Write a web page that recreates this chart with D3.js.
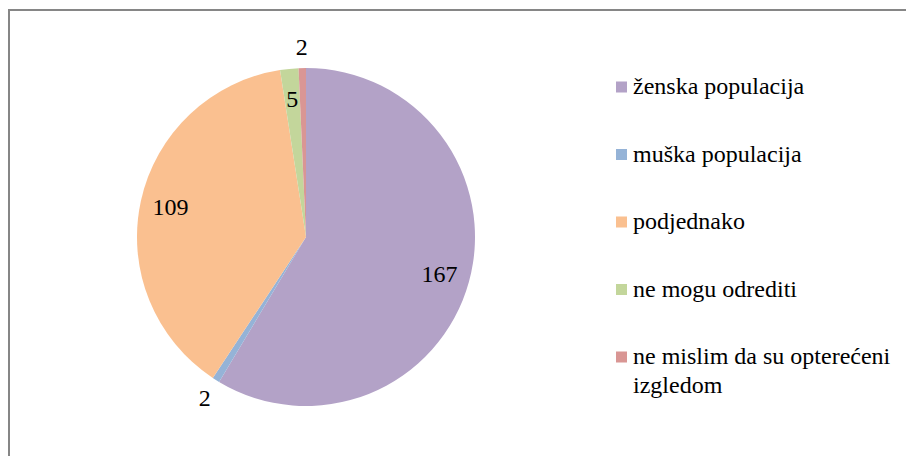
<!DOCTYPE html>
<html>
<head>
<meta charset="utf-8">
<script src="https://d3js.org/d3.v7.min.js"></script>
<style>
	body { margin: 0; background: #fff; overflow: hidden; }
	svg { display: block; }
</style>
</head>
<body>
<script>

// values
var categories = ["ženska populacija", "muška populacija", "podjednako", "ne mogu odrediti", "ne mislim da su opterećeni izgledom"]
var values = [167, 2, 109, 5, 2]
var colors = ["#B3A2C7", "#95B3D7", "#FAC090", "#C3D69B", "#D99694"]

var width = 906, height = 456
var cx = 306, cy = 237, radius = 169
var fontFam = "Liberation Serif"

var svg = d3.select("body").append("svg")
	.attr("width", width)
	.attr("height", height)

// chart frame: only the top and left edges fall inside the shot
svg.append("line")
	.attr("x1", 9).attr("y1", 10).attr("x2", 906).attr("y2", 10)
	.attr("stroke", "#868686").attr("stroke-width", 2)
svg.append("line")
	.attr("x1", 9).attr("y1", 9).attr("x2", 9).attr("y2", 456)
	.attr("stroke", "#868686").attr("stroke-width", 2)

var pie = d3.pie().sort(null).value(function(d) { return d })
var arcs = pie(values)

var arc = d3.arc().innerRadius(0).outerRadius(radius)

var g = svg.append("g").attr("transform", "translate(" + cx + "," + cy + ")")

g.selectAll("path")
	.data(arcs)
	.enter().append("path")
	.attr("d", arc)
	.attr("fill", function(d, i) { return colors[i] })

// small slices get their label outside, the rest inside
function labelPos(d) {
	var a = (d.startAngle + d.endAngle) / 2
	var r = d.value <= 2 ? radius + 21 : radius * 0.82
	return [Math.sin(a) * r, -Math.cos(a) * r]
}

g.selectAll("text.lbl")
	.data(arcs)
	.enter().append("text")
	.attr("class", "lbl")
	.attr("x", function(d) { return labelPos(d)[0] })
	.attr("y", function(d) { return labelPos(d)[1] })
	.attr("dy", "0.33em")
	.attr("text-anchor", "middle")
	.style("font-family", fontFam)
	.style("font-size", "24px")
	.text(function(d) { return d.value })

// legend
var legendY = d3.scalePoint().domain(categories).range([87, 357])

var legend = svg.append("g")
	.selectAll("g")
	.data(categories)
	.enter().append("g")
	.attr("transform", function(d) { return "translate(616," + legendY(d) + ")" })

legend.append("rect")
	.attr("x", 0).attr("y", -5.5)
	.attr("width", 11).attr("height", 11)
	.attr("fill", function(d, i) { return colors[i] })

legend.append("text")
	.attr("x", 17)
	.style("font-family", fontFam)
	.style("font-size", "24px")
	.each(function(d) {
		var t = d3.select(this)
		var parts = d === categories[4] ? ["ne mislim da su opterećeni", "izgledom"] : [d]
		parts.forEach(function(p, k) {
			t.append("tspan").attr("x", 17).attr("dy", k === 0 ? "0.3em" : "1.2em").text(p)
		})
	})

</script>
</body>
</html>
